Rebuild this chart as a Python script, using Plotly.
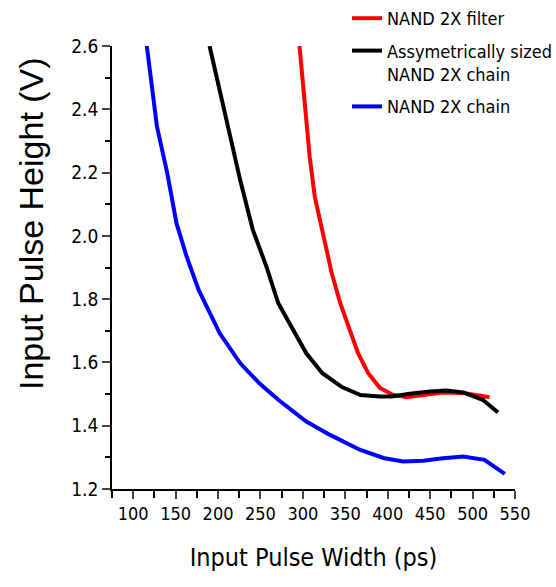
import plotly.graph_objects as go

# Input pulse width (ps) vs. minimum input pulse height (V) that propagates
filter_ps = [296, 302, 308, 314, 322, 328, 334, 344, 354, 365, 377, 391, 406, 422, 442, 465, 489, 520]
filter_v = [2.60, 2.41, 2.25, 2.124, 2.029, 1.945, 1.882, 1.787, 1.713, 1.629, 1.566, 1.519,
            1.498, 1.490, 1.497, 1.505, 1.503, 1.490]

asym_ps = [190, 202, 214, 226, 241, 257, 271, 289, 304, 323, 346, 368, 390, 405, 426, 450, 469, 489, 512, 530]
asym_v = [2.60, 2.46, 2.313, 2.177, 2.019, 1.903, 1.787, 1.703, 1.629, 1.566, 1.522, 1.497,
          1.492, 1.492, 1.501, 1.508, 1.511, 1.505, 1.482, 1.442]

chain_ps = [116, 122, 128, 140, 151, 163, 177, 202, 226, 249, 271, 304, 332, 367, 395, 418, 442, 465, 489, 514, 538]
chain_v = [2.60, 2.48, 2.345, 2.20, 2.04, 1.934, 1.83, 1.692, 1.598, 1.533, 1.482, 1.413, 1.371,
           1.324, 1.298, 1.287, 1.289, 1.297, 1.303, 1.292, 1.248]

labels = ["NAND 2X filter", "Assymetrically sized<br>NAND 2X chain", "NAND 2X chain"]
colors = ["#ff0000", "#000000", "#0000ff"]

x_ticks = [100, 150, 200, 250, 300, 350, 400, 450, 500, 550]
y_ticks = [1.2, 1.4, 1.6, 1.8, 2.0, 2.2, 2.4, 2.6]

NARROW = "DejaVu Sans Condensed, Liberation Sans Narrow, Liberation Sans, Arial, sans-serif"
ARIAL = "Liberation Sans, Arial, sans-serif"

# plot area in pixels
L, R, T, B = 112, 41, 46, 98
W, H = 556, 587
PW, PH = W - L - R, H - T - B

fig = go.Figure()
for i, (xs, ys, name, col) in enumerate(zip([filter_ps, asym_ps, chain_ps],
                                             [filter_v, asym_v, chain_v], labels, colors)):
    fig.add_trace(go.Scatter(x=xs, y=ys, mode="lines", name=name, legendgroup=f"g{i}",
                             line=dict(color=col, width=4)))

fig.update_layout(
    width=W, height=H,
    margin=dict(l=L, r=R, t=T, b=B, autoexpand=False),
    paper_bgcolor="white", plot_bgcolor="white",
    font=dict(family=NARROW, color="black", size=18),
    legend=dict(xref="container", yref="container", x=347 / W, y=1 - 0 / H,
                xanchor="left", yanchor="top", bgcolor="rgba(0,0,0,0)",
                font=dict(family=NARROW, size=18), valign="top", tracegroupgap=6),
    showlegend=True,
)

fig.update_xaxes(
    range=[75, 550], tickvals=x_ticks, ticks="outside", ticklen=8, tickwidth=1.5,
    showline=True, linecolor="black", linewidth=1.5, showgrid=False, zeroline=False,
    minor=dict(dtick=25, tick0=75, ticks="outside", ticklen=7, tickwidth=1.5, tickcolor="black"),
    tickfont=dict(size=18),
    title=dict(text="Input Pulse Width (ps)", font=dict(size=25), standoff=25),
)
fig.update_yaxes(
    range=[1.2, 2.6], tickvals=y_ticks, tickformat=".1f", ticks="outside", ticklen=8, tickwidth=1.5,
    showline=True, linecolor="black", linewidth=1.5, showgrid=False, zeroline=False,
    minor=dict(dtick=0.1, tick0=1.2, ticks="outside", ticklen=5, tickwidth=1.5, tickcolor="black"),
    tickfont=dict(size=19),
)

# y-axis title, set slightly above the axis centre
fig.add_annotation(
    text="Input Pulse Height (V)", textangle=-90, showarrow=False,
    xref="paper", yref="paper", x=(31 - L) / PW, y=(H - B - 224) / PH,
    xanchor="center", yanchor="middle",
    font=dict(family=ARIAL, size=34, color="black"),
)

fig.write_html("out.html")
